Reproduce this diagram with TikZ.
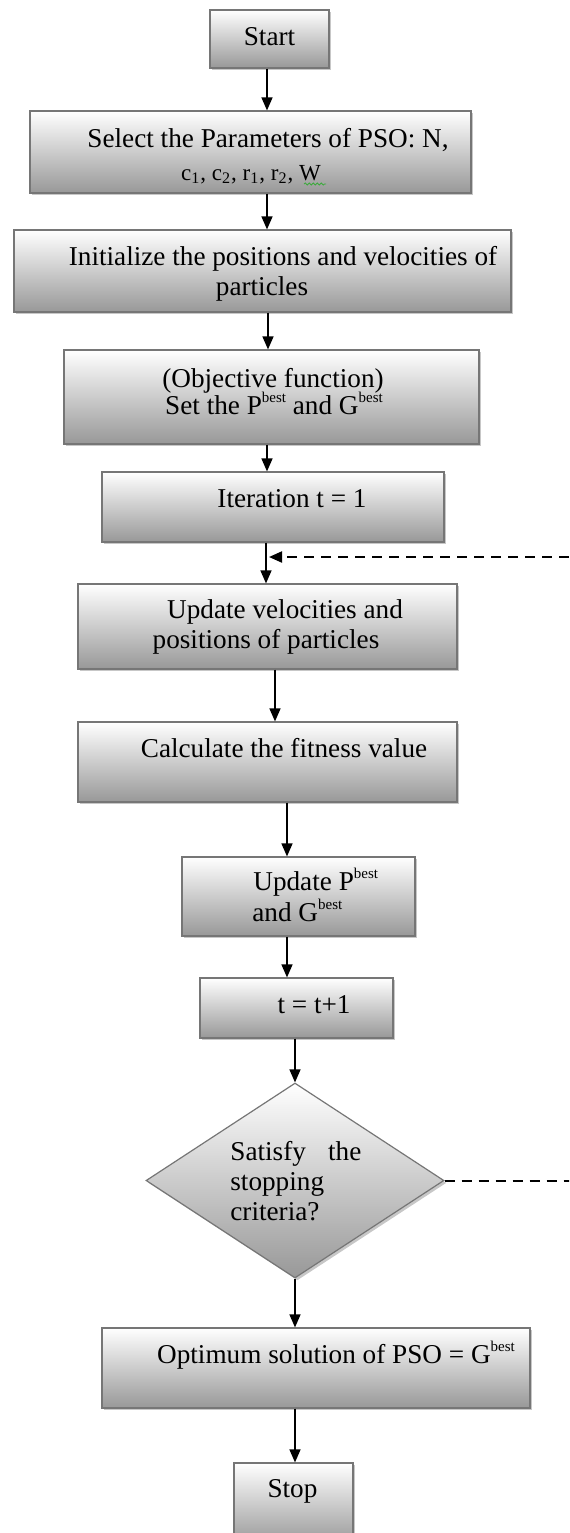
\documentclass[tikz,border=0pt]{standalone}
\usepackage{fontspec}
\setmainfont{Liberation Serif}
\usetikzlibrary{arrows.meta,shapes.geometric,shadows,decorations.pathmorphing}
\definecolor{boxborder}{RGB}{118,118,118}
\definecolor{boxbottom}{RGB}{152,152,152}
\definecolor{squig}{RGB}{60,170,60}
\newcommand{\bst}{\raisebox{0.42em}{\fontsize{7.5}{8}\selectfont best}}
\begin{document}
\begin{tikzpicture}[x=0.5pt,y=-0.5pt,
  fc/.style={draw=boxborder, line width=0.6pt, top color=white, bottom color=boxbottom,
    drop shadow={shadow xshift=1.2pt,shadow yshift=-1.2pt,fill=black,opacity=0.22}, inner sep=0pt},
  fcbox/.style 2 args={fc, rectangle, minimum width=#1*0.5pt, minimum height=#2*0.5pt},
  txt/.style={inner sep=0pt, anchor=base, font=\fontsize{13.6}{15}\selectfont},
  arr/.style={line width=0.7pt, -{Triangle[length=6.5pt,width=5.5pt]}},
  backloop/.style={line width=1pt, dash pattern=on 5pt off 3.5pt, -{Triangle[length=6.5pt,width=5.5pt]}}]
\useasboundingbox (0,0) rectangle (569,1533);
\clip (0,0) rectangle (569,1533);
% boxes
\node[fcbox={119}{58}] (start) at (269.5,39) {};
\node[fcbox={441}{82}] (params) at (250.5,152) {};
\node[fcbox={497}{82}] (init) at (262.5,271) {};
\node[fcbox={415}{94}] (obj) at (271.5,397) {};
\node[fcbox={342}{70}] (iter) at (273,507) {};
\node[fcbox={379}{85}] (upd) at (267.5,626.5) {};
\node[fcbox={379}{80}] (calc) at (267.5,762) {};
\node[fcbox={233}{79}] (updp) at (298.5,896.5) {};
\node[fcbox={193}{60}] (tt) at (296.5,1008) {};
\node[fc, diamond, minimum width=149pt, minimum height=97.5pt] (dia) at (295,1180.5) {};
\node[fcbox={428}{80}] (opt) at (316,1368) {};
\node[fcbox={119}{82}] (stop) at (293.5,1504) {};
% texts
\node[txt] (startT) at (269.5,45) {Start};
\node[txt] (parT1) at (268,147) {Select the Parameters of PSO: N,};
\node[txt, font=\fontsize{11.5}{13}\selectfont] (parT2) at (251,180) {c\textsubscript{1}, c\textsubscript{2}, r\textsubscript{1}, r\textsubscript{2}, W};
\draw[squig, line width=0.4pt, decorate, decoration={snake, amplitude=0.5pt, segment length=2pt}] (304,184) -- (326,184);
\node[txt] (initT1) at (283,265) {Initialize the positions and velocities of};
\node[txt] (initT2) at (262,295) {particles};
\node[txt] (objT1) at (273,387) {(Objective function)};
\node[txt] (objT2) at (274,414) {Set the P\bst{} and G\bst};
\node[txt] (iterT) at (292,507) {Iteration t = 1};
\node[txt] (updT1) at (285,618) {Update velocities and};
\node[txt] (updT2) at (266,648) {positions of particles};
\node[txt] (calcT) at (284,757) {Calculate the fitness value};
\node[txt, anchor=base west] (updpT1) at (253,890) {Update P\bst};
\node[txt, anchor=base west] (updpT2) at (252,921) {and G\bst};
\node[txt] (ttT) at (314,1013) {t = t+1};
\node[txt, anchor=base west] (diaT1) at (230,1160) {\makebox[65.5pt][s]{Satisfy\hfill the}};
\node[txt, anchor=base west] (diaT2) at (230,1190) {stopping};
\node[txt, anchor=base west] (diaT3) at (230,1220) {criteria?};
\node[txt] (optT) at (336,1363) {Optimum solution of PSO = G\bst};
\node[txt] (stopT) at (292.5,1497) {Stop};
% arrow columns
\coordinate (c1) at (267,0);
\coordinate (c3) at (268,0);
\coordinate (c5) at (266,0);
\coordinate (c6) at (275,0);
\coordinate (c7) at (287,0);
\draw[arr] (start.south -| c1) -- (params.north -| c1);
\draw[arr] (params.south -| c1) -- (init.north -| c1);
\draw[arr] (init.south -| c3) -- (obj.north -| c3);
\draw[arr] (obj.south -| c1) -- (iter.north -| c1);
\draw[arr] (iter.south -| c5) -- (upd.north -| c5);
\draw[arr] (upd.south -| c6) -- (calc.north -| c6);
\draw[arr] (calc.south -| c7) -- (updp.north -| c7);
\draw[arr] (updp.south -| c7) -- (tt.north -| c7);
\draw[arr] (tt.south -| dia.north) -- (dia.north);
\draw[arr] (dia.south) -- (opt.north -| dia.south);
\draw[arr] (opt.south -| dia.south) -- (stop.north -| dia.south);
% feedback loop (vertical part lies beyond the right edge)
\coordinate (back) at (269,557);
\coordinate (loopR) at (620,0);
\draw[backloop] (dia.east) -- (dia.east -| loopR) |- (back);
\end{tikzpicture}
\end{document}
